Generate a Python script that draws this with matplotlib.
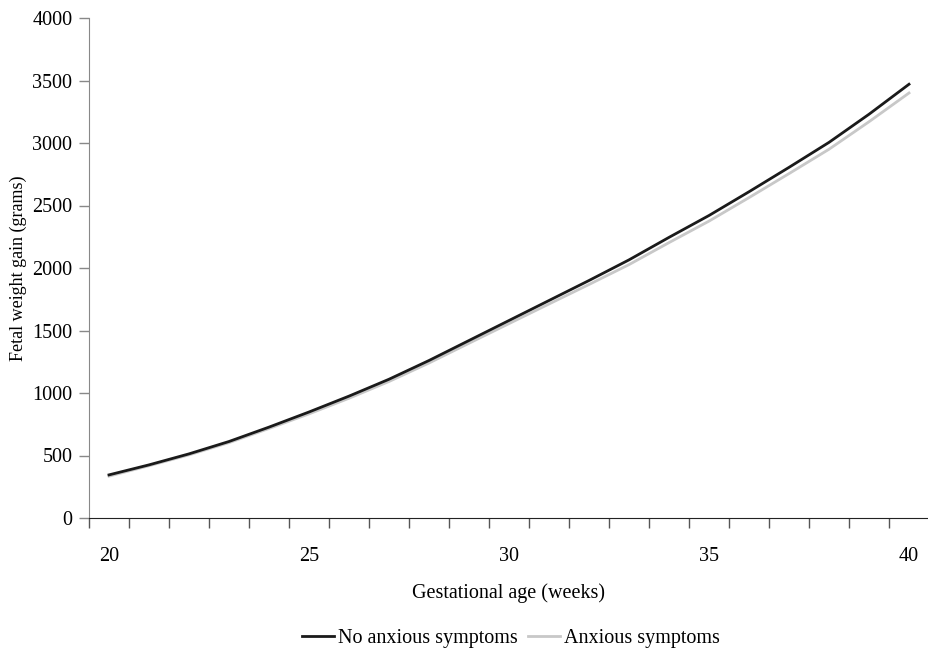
import numpy as np
import matplotlib.pyplot as plt
from matplotlib.ticker import FixedLocator, NullFormatter

plt.rc('font', family='serif', serif=['Liberation Serif', 'DejaVu Serif'])

# Dane
weeks = [20, 21, 22, 23, 24, 25, 26, 27, 28, 29, 30,
         31, 32, 33, 34, 35, 36, 37, 38, 39, 40]
no_anxious = [345, 425, 513, 612, 727, 848, 975, 1110, 1260, 1420, 1580,
              1740, 1900, 2065, 2245, 2420, 2610, 2805, 3005, 3230, 3470]
anxious = [335, 418, 505, 603, 716, 833, 958, 1092, 1240, 1398, 1555,
           1712, 1868, 2027, 2203, 2375, 2563, 2755, 2950, 3170, 3400]
x_labels = [20, 25, 30, 35, 40]
y_ticks = np.arange(0, 4001, 500)

fig = plt.figure(figsize=(9.29, 6.54), dpi=100)
ax = fig.add_axes([89/929, 1-518/654, 840/929, 500/654])

ax.plot(weeks, no_anxious, color='#1a1a1a', linewidth=2.0, label='No anxious symptoms', zorder=3)
ax.plot(weeks, anxious, color='#c8c8c8', linewidth=2.0, label='Anxious symptoms', zorder=2)

ax.set_xlim(weeks[0]-0.5, weeks[-1]+0.5)
ax.set_ylim(0, 4000)

# os X: znaczniki na granicach kategorii, etykiety co 5 tygodni
ax.xaxis.set_major_locator(FixedLocator(np.arange(weeks[0]-0.5, weeks[-1]+1, 1)))
ax.xaxis.set_major_formatter(NullFormatter())
ax.xaxis.set_minor_locator(FixedLocator(x_labels))
ax.set_xticklabels([str(v) for v in x_labels], minor=True)
ax.tick_params(axis='x', which='major', direction='out', length=7, width=1, color='#555555')
ax.tick_params(axis='x', which='minor', length=0, pad=21, labelsize=14.5)

ax.set_yticks(y_ticks)
ax.tick_params(axis='y', direction='out', length=7, width=1, color='#888888', labelsize=14.5, pad=5)

for s in ['top', 'right']:
    ax.spines[s].set_visible(False)
ax.spines['left'].set_color('#888888')
ax.spines['bottom'].set_color('#222222')

ax.set_xlabel('Gestational age (weeks)', fontsize=14.5, labelpad=12)
ax.set_ylabel('Fetal weight gain (grams)', fontsize=13, labelpad=4)

fig.legend(loc='center', bbox_to_anchor=(511/929, 1-638/654), ncol=2, frameon=False,
           fontsize=14.5, handlelength=1.6, handletextpad=0.2, columnspacing=0.5)

plt.savefig('out.png', dpi=100)
